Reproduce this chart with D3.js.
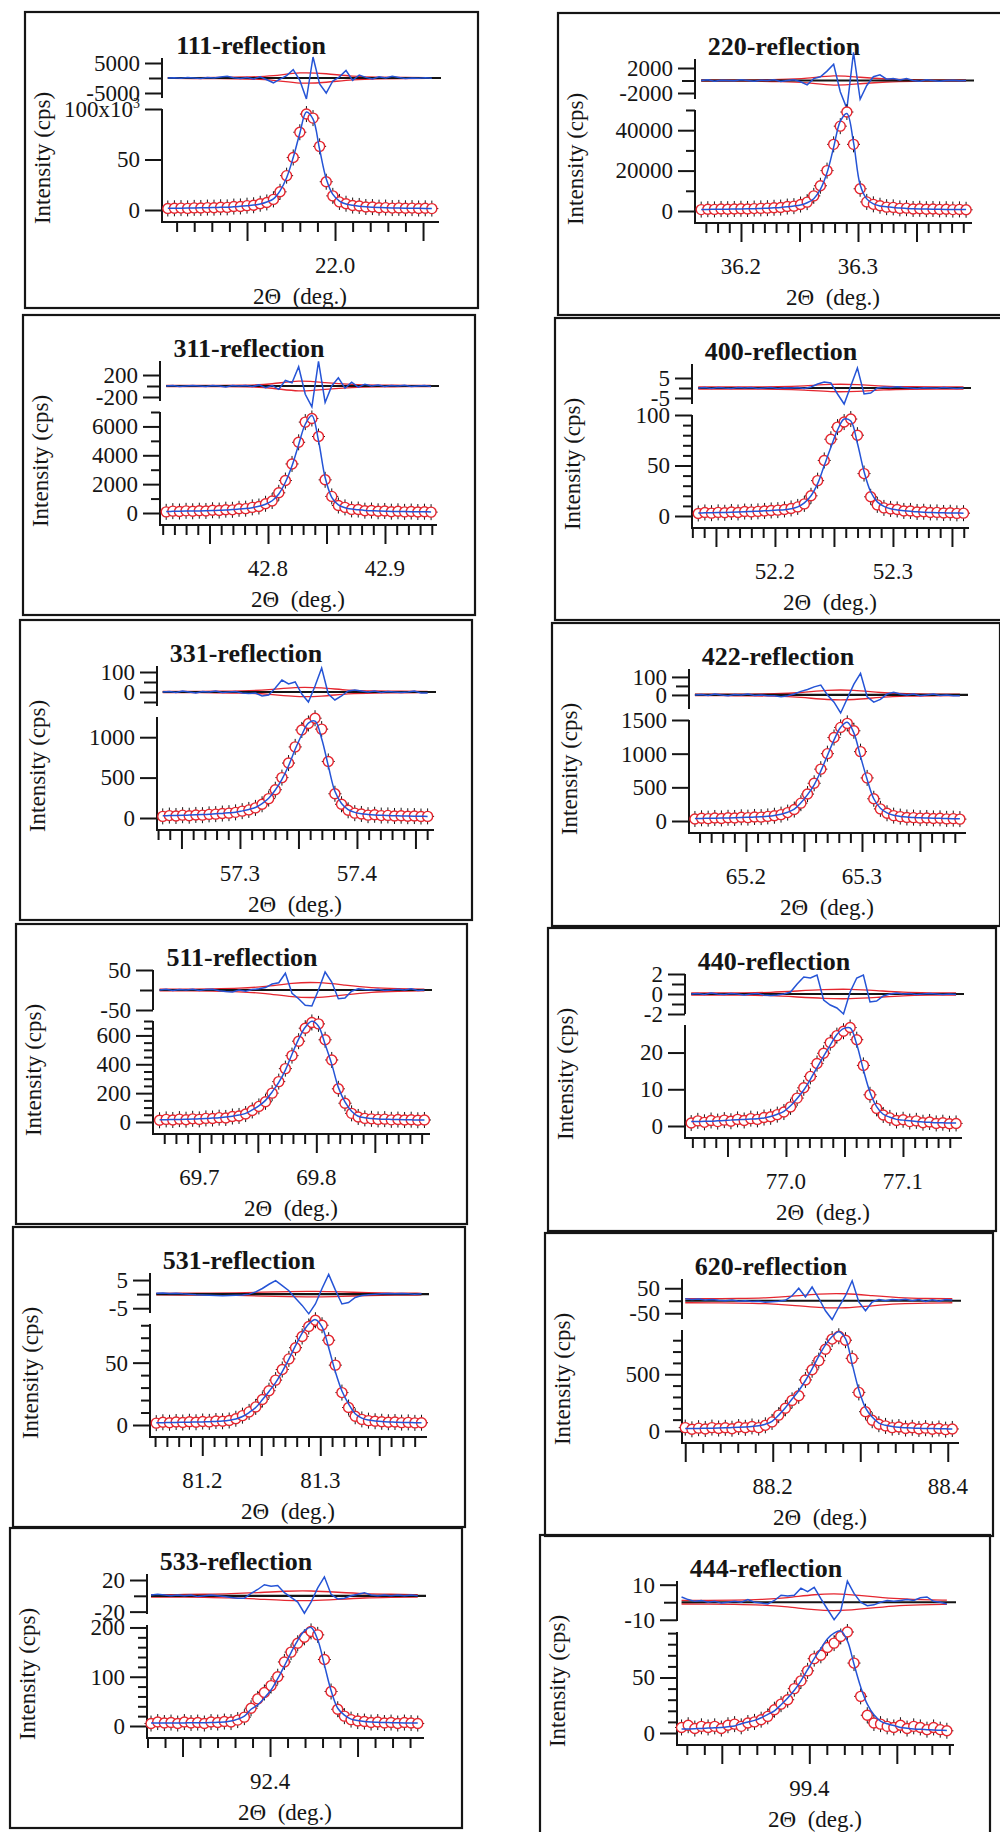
<!DOCTYPE html>
<html>
<head>
<meta charset="utf-8">
<script src="https://cdn.jsdelivr.net/npm/d3@7"></script>
<style>
  body { margin: 0; background: #fff; }
  text { font-family: "Liberation Serif", "Times New Roman", serif; fill: #151515; }
  .tick text { font-size: 23px; font-family: "Liberation Serif", "Times New Roman", serif; }
  .tick line { stroke: #151515; stroke-width: 2; }
  .title { font-size: 26px; font-weight: bold; }
  .axis-title { font-size: 23px; }
</style>
</head>
<body>
<svg id="chart" width="1000" height="1832"></svg>
<script>
const reflections = ['111', '220', '311', '400', '331', '422', '511', '440', '531', '620', '533', '444'];

// scan grid: first 2θ and step (deg.)
const scanStart = [21.905, 36.166, 42.713, 52.135, 57.234, 65.156, 69.666, 76.919, 81.161, 88.100, 92.332, 99.327];
const scanStep = [0.00375, 0.00566, 0.00566, 0.00562, 0.00566, 0.00571, 0.00566, 0.00566, 0.00562, 0.00763, 0.00381, 0.00379];

// axes
const thetaRange = [
  [21.9017, 22.0585], [36.1607, 36.3966], [42.7077, 42.9436], [52.1297, 52.3636],
  [57.2291, 57.4650], [65.1509, 65.3888], [69.6604, 69.8963], [76.9137, 77.1496],
  [81.1557, 81.3896], [88.0963, 88.4117], [92.3297, 92.4874], [99.3244, 99.4821],
];
const thetaTickStep = [0.01, 0.01, 0.01, 0.01, 0.01, 0.01, 0.01, 0.01, 0.01, 0.02, 0.01, 0.01];
const intensityMax = [100000, 50000, 7000, 100, 1250, 1500, 700, 27.5, 81, 890, 205, 91];
const intensityTicks = [
  [0, 50000, 100000], [0, 20000, 40000], [0, 2000, 4000, 6000], [0, 50, 100],
  [0, 500, 1000], [0, 500, 1000, 1500], [0, 200, 400, 600], [0, 10, 20],
  [0, 50], [0, 500], [0, 100, 200], [0, 50],
];
const intensityMinorStep = [0, 10000, 1000, 10, 0, 0, 50, 0, 10, 100, 20, 10];
const residualRange = [
  [-6667, 6667], [-2960, 3440], [-273, 455], [-8, 12], [-70, 130], [-78, 144],
  [-50, 50], [-2, 2], [-6.7, 7.5], [-73, 87], [-23, 27.6], [-10.7, 12.1],
];
const residualTicks = [
  [5000, -5000], [2000, -2000], [200, -200], [5, -5], [100, 0], [100, 0],
  [50, -50], [2, 0, -2], [5, -5], [50, -50], [20, -20], [10, -10],
];
const residualMinor = [[0], [0], [0], [0], [50, -50], [50], [0], [1, -1], [0], [0], [0], [0]];

// observed (circles), fitted profile (blue), residual (top, blue), sigma envelope (top, red, every 4th point)
const obs111 = [1500, 1700, 1900, 1600, 2100, 2000, 2400, 2300, 2700, 2600, 3400, 3500, 4300, 4700, 6200, 7500, 10500, 18000, 34000, 52000, 77000, 95000, 91000, 63000, 28000, 14000, 8000, 6200, 4400, 4000, 3000, 2900, 2300, 2400, 1900, 2100, 1700, 1900, 1500, 1700, 1400];
const fit111 = [1700, 1750, 1800, 1900, 2000, 2150, 2250, 2400, 2600, 2800, 3200, 3600, 4200, 4900, 5900, 7900, 11000, 19000, 32000, 52000, 76000, 97000, 90000, 60000, 31000, 15400, 8900, 5900, 4700, 3800, 3200, 2800, 2500, 2250, 2050, 1950, 1850, 1750, 1650, 1600, 1550];
const diff111 = [0, 100, -100, 200, 0, -200, 200, 0, 300, 600, 100, -200, 200, -300, 400, -600, -1600, -400, 800, 2800, -800, -7000, 7000, -2000, -5000, -1000, 400, 2500, -800, 1000, 200, -300, 400, 0, 600, 200, -200, 0, -100, 100, -100];
const env111 = [150, 150, 200, 300, 600, 2000, 1500, 500, 250, 200, 150];

const obs220 = [700, 900, 800, 1000, 900, 1000, 1100, 1000, 1200, 1300, 1400, 1600, 1700, 2200, 2400, 3200, 4400, 7500, 12500, 20000, 33000, 42000, 49000, 33000, 11000, 4500, 3300, 2600, 1900, 1800, 1300, 1400, 1000, 1100, 900, 1000, 800, 900, 700, 800, 600];
const fit220 = [780, 800, 840, 880, 910, 960, 1010, 1080, 1150, 1280, 1420, 1570, 1760, 2050, 2450, 3000, 4100, 6100, 10700, 18900, 31500, 44400, 48300, 34000, 13000, 6000, 3500, 2500, 2150, 1700, 1470, 1280, 1130, 1030, 950, 890, 840, 790, 770, 740, 720];
const diff220 = [0, 100, -100, 50, 0, -50, 100, 0, -100, 50, 0, 100, -150, 0, 100, -200, -700, 300, 600, 1500, 2600, -1800, -4500, 4500, -3000, -800, 600, 900, 200, 300, 100, 300, 0, -100, 100, 0, -100, 0, 50, -50, 0];
const env220 = [80, 90, 100, 150, 300, 900, 500, 200, 120, 100, 90];

const obs311 = [80, 130, 100, 150, 120, 160, 140, 190, 170, 230, 220, 290, 300, 390, 450, 640, 830, 1400, 2250, 3400, 4900, 6300, 6550, 5300, 2300, 1150, 520, 390, 250, 240, 160, 170, 120, 140, 90, 120, 80, 100, 70, 90, 60];
const fit311 = [109, 114, 122, 130, 137, 144, 157, 170, 190, 210, 240, 270, 310, 370, 465, 610, 850, 1320, 2130, 3270, 4740, 6150, 6750, 5010, 2460, 1090, 560, 365, 270, 218, 177, 157, 137, 120, 110, 102, 97, 90, 84, 81, 77];
const diff311 = [0, 10, -10, 0, 10, 0, -10, 10, 0, -20, 10, 0, 10, -10, 20, -30, 10, -60, 100, 60, 350, -150, -380, 450, -300, 0, 150, -40, 70, -20, 30, 0, 20, -10, 10, 0, 15, -10, 0, 10, -10];
const env311 = [10, 10, 12, 15, 30, 110, 60, 25, 15, 12, 10];

const obs400 = [2.5, 3.5, 2.8, 3.6, 3.2, 4, 3.5, 4.4, 4.1, 4.6, 5, 5.5, 5.8, 6.5, 7.5, 9, 12, 20, 35, 55, 76, 88, 93, 96, 80, 42, 19, 11, 8, 7, 6.5, 5, 5, 4, 4.2, 3.5, 3.6, 3, 3.2, 2.6, 2.8];
const fit400 = [3.0, 3.1, 3.3, 3.4, 3.5, 3.7, 3.9, 4.2, 4.5, 4.8, 5.1, 5.5, 5.9, 6.3, 7.2, 9, 13, 20, 32, 50, 68, 85, 96, 94, 72, 44, 24, 14, 9.5, 7.2, 6, 5.2, 4.6, 4.2, 3.8, 3.5, 3.3, 3.1, 3.0, 2.9, 2.8];
const diff400 = [0, 0.2, -0.2, 0.3, 0, -0.2, 0.2, 0, 0.3, -0.3, 0, 0.2, -0.2, 0.1, 0, 0.3, -0.2, 0.5, 2, 3, 2.5, -3, -8, 1, 10, -3, -2.5, 0, 0.5, 0.3, 0.6, 0.2, 0, -0.2, 0.1, 0, -0.1, 0.2, 0, -0.2, 0];
const env400 = [0.5, 0.5, 0.5, 0.6, 1, 2, 1.8, 0.8, 0.6, 0.5, 0.5];

const obs331 = [20, 30, 25, 35, 28, 38, 35, 45, 48, 55, 60, 70, 85, 100, 125, 170, 240, 350, 500, 680, 880, 1090, 1170, 1235, 1100, 700, 300, 170, 95, 60, 50, 35, 40, 30, 32, 25, 28, 22, 24, 18, 20];
const fit331 = [28, 30, 32, 34, 36, 39, 42, 46, 52, 57, 64, 72, 88, 106, 130, 178, 244, 346, 478, 646, 850, 1030, 1174, 1198, 982, 646, 330, 180, 105, 70, 52, 44, 38, 34, 30, 28, 26, 24, 22, 21, 20];
const diff331 = [0, 3, -3, 5, 0, -5, 3, 0, 5, -3, 0, 3, -5, -8, -5, -20, -15, 20, 60, 40, 50, -10, -50, 30, 120, -10, -40, -20, 5, 10, 5, 0, 5, -3, 3, 0, -3, 0, 5, -5, -5];
const env331 = [3, 3, 4, 5, 10, 25, 22, 8, 5, 4, 3];

const obs422 = [30, 40, 35, 45, 38, 48, 45, 55, 50, 60, 58, 68, 78, 95, 125, 170, 265, 400, 560, 770, 1000, 1240, 1390, 1450, 1340, 1030, 640, 330, 180, 115, 80, 65, 52, 50, 42, 45, 38, 40, 32, 35, 28];
const fit422 = [37, 38, 40, 42, 44, 46, 49, 52, 55, 58, 62, 70, 82, 100, 130, 175, 270, 392, 537, 740, 972, 1204, 1393, 1465, 1305, 957, 617, 330, 190, 120, 85, 68, 58, 52, 47, 44, 41, 39, 37, 35, 33];
const diff422 = [0, 3, -3, 5, 0, -5, 3, 0, 5, -3, 0, -5, -5, -10, -5, 5, 20, 30, 45, 55, 0, -40, -100, -20, 60, 120, -10, -40, -25, 5, 15, 5, 0, 5, -5, 0, 5, -3, 0, -5, -5];
const env422 = [4, 4, 5, 6, 12, 28, 28, 12, 6, 5, 4];

const obs511 = [12, 18, 14, 20, 16, 22, 18, 25, 24, 30, 28, 38, 42, 55, 80, 108, 140, 200, 280, 370, 460, 560, 650, 690, 680, 570, 430, 230, 130, 60, 35, 25, 22, 18, 20, 15, 17, 14, 16, 12, 14];
const fit511 = [15, 16, 17, 18, 19, 20, 22, 24, 27, 30, 35, 40, 48, 60, 84, 112, 150, 208, 274, 360, 470, 574, 657, 698, 664, 539, 401, 240, 140, 75, 40, 29, 24, 21, 19, 18, 17, 16, 15, 14, 14];
const diff511 = [0, 2, -1, 1, 0, 2, -1, 1, 2, -2, -4, -5, 0, -3, 1, 3, 6, 15, 18, 42, -8, -22, -38, -40, 0, 45, 20, -22, -20, -3, 3, 1, 0, 2, -1, 0, 2, 0, 3, -1, 0];
const env511 = [2, 2, 3, 4, 8, 18, 20, 12, 5, 3, 2];

const obs440 = [0.8, 1.4, 1.0, 1.5, 1.2, 1.6, 1.3, 1.8, 1.5, 2.0, 1.8, 2.3, 2.5, 3.1, 3.8, 5.2, 7.6, 10.4, 13.5, 17, 19.8, 22.7, 24.6, 25.8, 26.8, 23.5, 16.5, 8.5, 4.8, 3.0, 2.2, 1.5, 1.7, 1.2, 1.4, 0.9, 1.1, 0.7, 0.9, 0.6, 0.7];
const fit440 = [1.2, 1.2, 1.3, 1.3, 1.4, 1.5, 1.6, 1.7, 1.8, 1.9, 2.0, 2.2, 2.6, 3.2, 4.0, 5.5, 7.5, 9.8, 12.7, 15.9, 19.0, 22.0, 24.9, 26.5, 26.7, 22.2, 15.3, 9.2, 5.3, 3.2, 2.4, 1.8, 1.6, 1.4, 1.2, 1.1, 1.0, 0.9, 0.9, 0.8, 0.8];
const diff440 = [0, 0.05, -0.05, 0.1, 0, -0.05, 0.05, 0, -0.1, 0, 0.05, -0.1, -0.15, -0.1, 0, 0.2, 1.0, 1.7, 1.6, 1.9, -0.6, -1.1, -1.4, -2.0, 0.2, 1.6, 1.9, -0.8, -0.7, -0.2, 0, 0.1, 0, 0.05, -0.05, 0, 0.05, 0, -0.05, 0, -0.05];
const env440 = [0.1, 0.1, 0.12, 0.15, 0.3, 0.45, 0.5, 0.35, 0.15, 0.12, 0.1];

const obs531 = [1.5, 2.2, 1.8, 2.4, 2.0, 2.6, 2.2, 2.8, 2.5, 3.2, 3.0, 3.6, 5.0, 7.5, 10.5, 14.5, 20.5, 27.5, 36, 44.5, 53, 62, 71, 79, 84, 80, 68, 48, 26, 14, 7, 4.5, 3.5, 3.0, 2.6, 2.2, 2.4, 1.9, 2.1, 1.7, 1.8];
const fit531 = [1.8, 1.9, 2.0, 2.1, 2.2, 2.3, 2.4, 2.5, 2.7, 2.9, 3.2, 3.8, 4.8, 6.8, 10, 14, 20.2, 26.9, 34, 42.8, 52.8, 63.6, 73.6, 81, 84.5, 78.7, 62, 42.8, 27.3, 16.9, 9, 5.5, 4, 3.3, 2.8, 2.5, 2.3, 2.1, 2.0, 1.9, 1.8];
const diff531 = [0.3, 0.4, 0.2, 0.3, 0.1, 0, -0.2, -0.3, -0.4, -0.5, -0.6, -0.5, -0.4, -0.3, 0, 0.8, 2, 3.5, 4.8, 3, 1.2, -1.5, -4, -7, -3.5, 2, 7, 1.5, -3.5, -3, -1.2, -0.5, -0.2, 0, 0.1, 0.2, 0.1, 0.2, 0.1, 0, 0.1];
const env531 = [0.3, 0.3, 0.35, 0.45, 0.7, 0.95, 1.0, 0.8, 0.5, 0.35, 0.3];

const obs620 = [30, 15, 25, 18, 30, 22, 28, 20, 35, 28, 40, 30, 50, 80, 140, 200, 270, 310, 450, 540, 620, 720, 810, 835, 800, 640, 340, 170, 95, 60, 45, 30, 35, 22, 28, 18, 25, 15, 22, 12, 18];
const fit620 = [22, 22, 23, 24, 25, 26, 28, 30, 33, 36, 40, 46, 60, 85, 140, 205, 282, 355, 445, 548, 660, 759, 832, 875, 815, 591, 363, 204, 123, 70, 50, 40, 33, 29, 26, 24, 22, 21, 20, 19, 18];
const diff620 = [8, 5, 7, 3, 5, 2, 0, 3, -2, 0, -3, -2, -6, -4, -2, 2, 20, 50, 15, 55, 10, -40, -75, -25, 20, 80, -5, -40, -5, 5, 0, 5, 3, 6, 0, 5, -3, 4, -2, 5, 3];
const env620 = [8, 8, 9, 11, 18, 28, 30, 20, 12, 9, 8];

const obs533 = [5, 8, 6, 7, 5, 8, 6, 7, 5, 8, 7, 9, 8, 12, 18, 36, 55, 68, 82, 100, 130, 150, 168, 180, 192, 185, 135, 70, 34, 20, 13, 10, 9, 7, 8, 6, 7, 5, 7, 6, 5];
const fit533 = [6, 6, 6, 6, 6.2, 6.3, 6.5, 6.7, 6.8, 7, 7.5, 8, 10, 14, 20, 34, 43, 57, 73, 96, 122, 149, 174, 193, 200, 175, 124, 72, 36, 22, 14, 11, 9, 8, 7.5, 7, 6.8, 6.5, 6.3, 6.2, 6];
const diff533 = [1, 2, 1, 0, 1, 0, 1, -1, 0, 1, 0, -1, -2, -3, -3, 3, 8, 14, 12, 13, 4, -2, -8, -22, -8, 10, 24, 2, -4, -3, 0, 2, 4, 1, 0, 1, 0, 1, 0, 1, 0];
const env533 = [1.5, 1.5, 2, 2.5, 4, 6, 6.5, 4.5, 2.5, 2, 1.5];

const obs444 = [5, 7, 4, 6, 5, 6, 4, 7, 8, 6, 9, 10, 12, 15, 21, 26, 30, 40, 47, 56, 67, 70, 77, 81, 87, 91, 63, 33, 16, 9, 8, 6, 5, 7, 4, 6, 5, 3, 5, 3, 2];
const fit444 = [3.5, 3.7, 3.9, 4.1, 4.4, 4.7, 5, 5.6, 6.4, 8.4, 9.9, 11.4, 13.7, 16.8, 20, 25.4, 31.5, 38.5, 47, 57, 67, 76, 85, 90, 92, 83, 62, 41.6, 26, 16.4, 10.8, 8.3, 6.7, 5, 4.3, 3.7, 3.3, 3, 2.7, 2.5, 2.3];
const diff444 = [3, 1.5, 0.5, 1, 0, 0.5, -0.5, 0, 0.5, 0, 1.5, 0, -0.5, -1, 1, 4, 3.5, 4, 8, 6, 8.5, 2, -4, -10, -5, 12, 5, 0, -2, -1.5, 0, 1, 0.5, 1, 1.5, 1, 2.5, 3, 0.5, 0, -1];
const env444 = [1, 1, 1.2, 1.5, 2.5, 4.5, 5, 3.5, 2, 1.5, 1.2];

const observed = [obs111, obs220, obs311, obs400, obs331, obs422, obs511, obs440, obs531, obs620, obs533, obs444];
const fitted = [fit111, fit220, fit311, fit400, fit331, fit422, fit511, fit440, fit531, fit620, fit533, fit444];
const residual = [diff111, diff220, diff311, diff400, diff331, diff422, diff511, diff440, diff531, diff620, diff533, diff444];
const envelope = [env111, env220, env311, env400, env331, env422, env511, env440, env531, env620, env533, env444];

// page layout: scanned frames [x, y, width, height]
const frames = [
  [25, 12, 453, 296], [558, 13, 448, 302],
  [23, 315, 452, 300], [555, 318, 448, 302],
  [20, 620, 452, 300], [552, 623, 448, 303],
  [16, 924, 451, 300], [548, 928, 448, 303],
  [13, 1227, 452, 300], [545, 1233, 448, 303],
  [10, 1528, 452, 300], [540, 1535, 450, 300],
];
const axisX = 137, axisRight = 413, zeroY = 198, topY = 97, baseY = 210;
const resTop = 46, resBottom = 86;
const red = '#e5262f', blue = '#2554d6', ink = '#151515';
const serif = '"Liberation Serif", "Times New Roman", serif';

const svg = d3.select('#chart');

// d3 axes put a sans-serif font on their group; use the page serif instead
const plain = sel => sel.attr('font-family', serif).attr('font-size', 23).call(s => s.select('.domain').remove());

reflections.forEach((name, p) => {
  const [fx, fy, fw, fh] = frames[p];
  const g = svg.append('g').attr('transform', `translate(${fx},${fy})`);

  g.append('rect')
    .attr('width', fw).attr('height', fh)
    .attr('fill', 'none').attr('stroke', ink).attr('stroke-width', 2.2);

  const x = d3.scaleLinear().domain(thetaRange[p]).range([axisX, axisRight]);
  const y = d3.scaleLinear().domain([0, intensityMax[p]]).range([zeroY, topY]);
  const r = d3.scaleLinear().domain(residualRange[p]).range([resBottom, resTop]);
  const theta = i => scanStart[p] + i * scanStep[p];
  const envTheta = k => scanStart[p] + k * 4 * scanStep[p];

  // Titles

  g.append('text').attr('class', 'title')
    .attr('x', 226).attr('y', 42).attr('text-anchor', 'middle')
    .text(`${name}-reflection`);

  g.append('text').attr('class', 'axis-title')
    .attr('transform', 'translate(17,146) rotate(-90)')
    .attr('text-anchor', 'middle').attr('dominant-baseline', 'central')
    .text('Intensity (cps)');

  g.append('text').attr('class', 'axis-title')
    .attr('x', (axisX + axisRight) / 2).attr('y', 292).attr('text-anchor', 'middle')
    .text('2\u0398\u00a0 (deg.)');

  // Residual strip

  g.append('g').attr('transform', `translate(${axisX},0)`)
    .call(d3.axisLeft(r).tickValues(residualTicks[p]).tickSize(17).tickPadding(5).tickFormat(d => String(d)))
    .call(plain);
  g.append('g').attr('transform', `translate(${axisX},0)`)
    .call(d3.axisLeft(r).tickValues(residualMinor[p]).tickSize(13).tickFormat(''))
    .call(plain);
  g.append('line')
    .attr('x1', axisX).attr('x2', axisX).attr('y1', resTop).attr('y2', resBottom)
    .attr('stroke', ink).attr('stroke-width', 2);

  const envLine = sign => d3.line()
    .x((d, k) => x(envTheta(k)))
    .y(d => r(sign * d))
    .curve(d3.curveBasis);
  [1, -1].forEach(sign => {
    g.append('path').datum(envelope[p])
      .attr('d', envLine(sign))
      .attr('fill', 'none').attr('stroke', red).attr('stroke-width', 1.3);
  });

  g.append('line')
    .attr('x1', x(theta(0))).attr('x2', axisRight + 3)
    .attr('y1', r(0)).attr('y2', r(0))
    .attr('stroke', ink).attr('stroke-width', 2.2);

  g.append('path').datum(residual[p])
    .attr('d', d3.line().x((d, i) => x(theta(i))).y(d => r(d)))
    .attr('fill', 'none').attr('stroke', blue).attr('stroke-width', 1.5);

  // Intensity axis

  const yAxis = g.append('g').attr('transform', `translate(${axisX},0)`)
    .call(d3.axisLeft(y).tickValues(intensityTicks[p]).tickSize(17).tickPadding(5)
      .tickFormat(d => p === 0 ? String(d / 1000) : String(d)))
    .call(plain);
  if (p === 0) {
    yAxis.selectAll('.tick text').filter(d => d === 100000)
      .text('100x10')
      .append('tspan').attr('dy', -9).attr('font-size', 14).text('3');
  }
  if (intensityMinorStep[p]) {
    const stepY = intensityMinorStep[p];
    const minorY = d3.range(1, Math.floor(intensityMax[p] / stepY + 1e-6) + 1)
      .map(k => k * stepY)
      .filter(v => !intensityTicks[p].includes(v));
    g.append('g').attr('transform', `translate(${axisX},0)`)
      .call(d3.axisLeft(y).tickValues(minorY).tickSize(9).tickFormat(''))
      .call(plain);
  }
  g.append('line')
    .attr('x1', axisX).attr('x2', axisX).attr('y1', topY).attr('y2', baseY)
    .attr('stroke', ink).attr('stroke-width', 2);

  // 2θ axis

  const stepX = thetaTickStep[p];
  const ks = d3.range(
    Math.ceil(thetaRange[p][0] / stepX - 1e-6),
    Math.floor(thetaRange[p][1] / stepX + 1e-6) + 1,
  );
  g.append('g').attr('transform', `translate(0,${baseY})`)
    .call(d3.axisBottom(x).tickValues(ks.filter(k => k % 5 !== 0).map(k => k * stepX)).tickSize(10).tickFormat(''))
    .call(plain);
  g.append('g').attr('transform', `translate(0,${baseY})`)
    .call(d3.axisBottom(x).tickValues(ks.filter(k => k % 5 === 0).map(k => k * stepX)).tickSize(19).tickFormat(''))
    .call(plain);
  g.append('line')
    .attr('x1', axisX - 1).attr('x2', axisRight + 1).attr('y1', baseY).attr('y2', baseY)
    .attr('stroke', ink).attr('stroke-width', 2);
  g.selectAll('text.xlabel')
    .data(ks.filter(k => k % 10 === 0))
    .join('text').attr('class', 'xlabel')
    .attr('x', k => x(k * stepX)).attr('y', 261)
    .attr('text-anchor', 'middle').attr('font-size', 23)
    .text(k => (k * stepX).toFixed(1));

  // Profile: error crosses, observed circles, fitted line

  const pts = observed[p].map((v, i) => [x(theta(i)), y(v)]);

  g.append('g').selectAll('path')
    .data(pts)
    .join('path')
    .attr('d', ([cx, cy]) => `M${cx - 6.5},${cy}h13M${cx},${cy - 8}v16`)
    .attr('stroke', ink).attr('stroke-width', 1).attr('fill', 'none');

  g.append('g').selectAll('circle')
    .data(pts)
    .join('circle')
    .attr('cx', d => d[0]).attr('cy', d => d[1]).attr('r', 5)
    .attr('fill', '#fff').attr('stroke', red).attr('stroke-width', 1.4);

  g.append('path').datum(fitted[p])
    .attr('d', d3.line().x((d, i) => x(theta(i))).y(d => y(d)).curve(d3.curveCatmullRom.alpha(0.5)))
    .attr('fill', 'none').attr('stroke', blue).attr('stroke-width', 1.5);
});
</script>
</body>
</html>
